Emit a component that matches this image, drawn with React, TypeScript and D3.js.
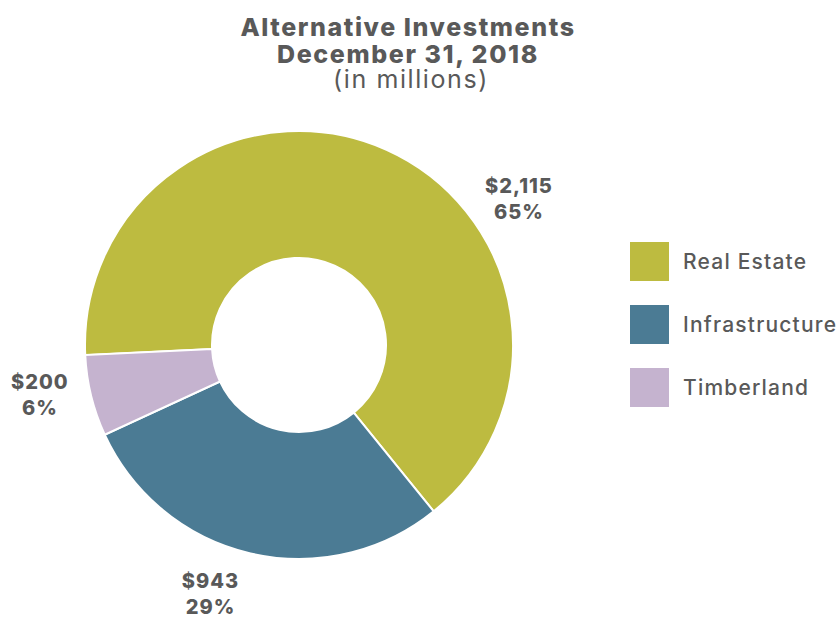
import React from "react";
import * as d3 from "d3";

const categories = ["Real Estate", "Infrastructure", "Timberland"];
const values = [2115, 943, 200];
const percentLabels = ["65%", "29%", "6%"];
const colors = ["#BDBB40", "#4B7B94", "#C5B3CF"];
const titleLines = ["Alternative Investments", "December 31, 2018"];
const subtitle = "(in millions)";

// layout
const W = 840, H = 618;
const cx = 299, cy = 345;
const outerR = 214, innerR = 87;
const startDeg = -92.7;
const labelAngles = [56.4, 199.6, 259]; // degrees, clockwise from top
const labelR = 264;
const textColor = "#595959";
const font = "Inter, 'Noto Sans', sans-serif";

export default function App() {
  const pie = d3
    .pie<number>()
    .sort(null)
    .value((d) => d)
    .startAngle((startDeg * Math.PI) / 180)
    .endAngle((startDeg * Math.PI) / 180 + 2 * Math.PI);
  const arcs = pie(values);
  const arc = d3.arc<d3.PieArcDatum<number>>().innerRadius(innerR).outerRadius(outerR);
  const fmt = d3.format("$,");

  return (
    <svg width={W} height={H} style={{ position: "absolute", left: 0, top: 0, background: "#fff" }}>
      <g fontFamily={font} fill={textColor} textAnchor="middle">
        <text x={408} y={36} fontSize={25} fontWeight={800} letterSpacing={1.6}>{titleLines[0]}</text>
        <text x={408} y={63} fontSize={25} fontWeight={800} letterSpacing={1.6}>{titleLines[1]}</text>
        <text x={411} y={88} fontSize={25} fontWeight={400} letterSpacing={1.6}>{subtitle}</text>
      </g>
      <g transform={`translate(${cx},${cy})`}>
        {arcs.map((a, i) => (
          <path key={i} d={arc(a) || ""} fill={colors[i]} stroke="#fff" strokeWidth={2} />
        ))}
        {arcs.map((a, i) => {
          const t = (labelAngles[i] * Math.PI) / 180;
          const x = labelR * Math.sin(t);
          const y = -labelR * Math.cos(t);
          return (
            <g key={i} fontFamily={font} fill={textColor} fontWeight={800} fontSize={20} letterSpacing={1} textAnchor="middle">
              <text x={x} y={y - 6}>{fmt(a.data)}</text>
              <text x={x} y={y + 20}>{percentLabels[i]}</text>
            </g>
          );
        })}
      </g>
      <g fontFamily={font} fill={textColor}>
        {categories.map((c, i) => (
          <g key={c} transform={`translate(630,${242 + i * 63})`}>
            <rect width={39} height={39} fill={colors[i]} />
            <text x={53} y={27} fontSize={21} fontWeight={500} letterSpacing={1.2}>{c}</text>
          </g>
        ))}
      </g>
    </svg>
  );
}
